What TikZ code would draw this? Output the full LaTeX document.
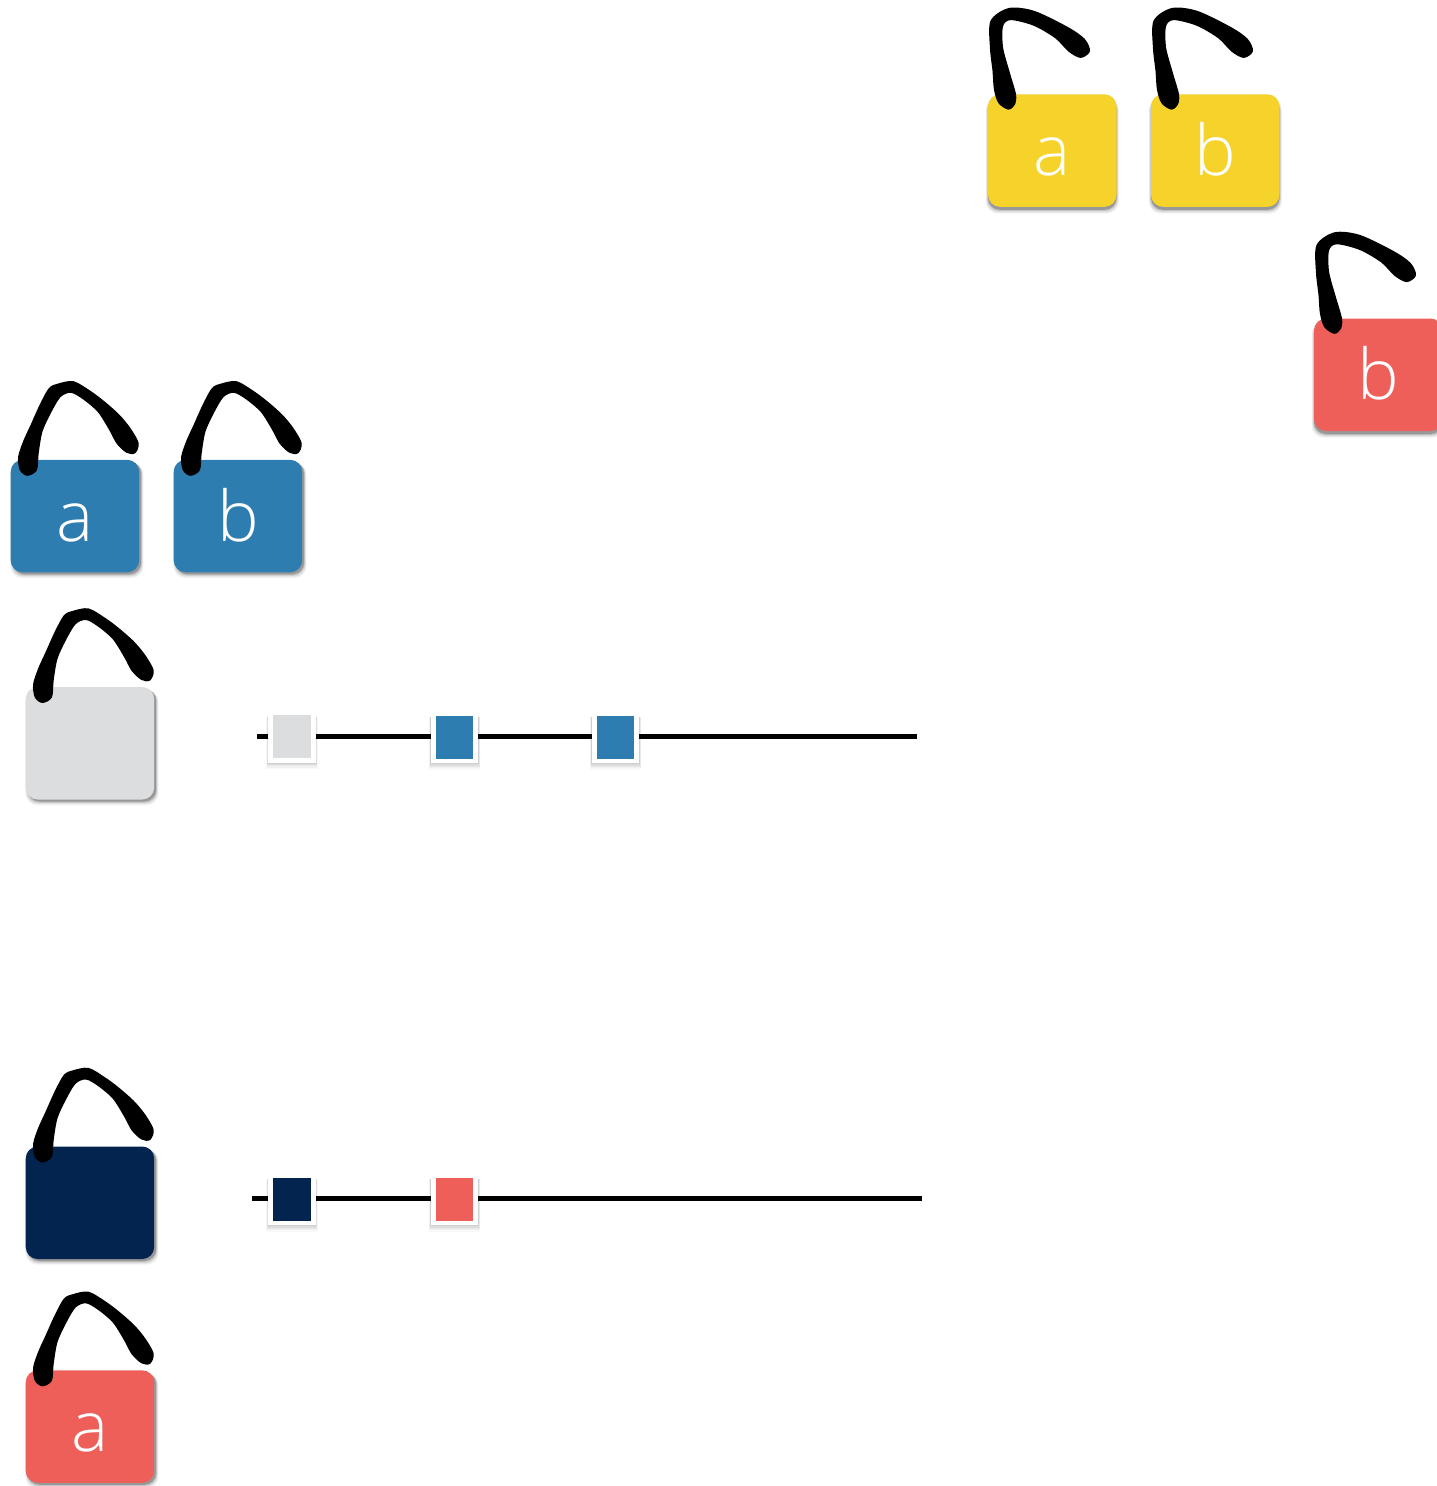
\documentclass[tikz,border=0pt]{standalone}
\usepackage{fontspec}
\setmainfont{Open Sans Light}
\definecolor{lockyellow}{HTML}{F6D32B}
\definecolor{lockred}{HTML}{EE5F5A}
\definecolor{lockblue}{HTML}{2E7DB0}
\definecolor{lockgray}{HTML}{DCDDDF}
\definecolor{locknavy}{HTML}{02244F}
\tikzset{
  lockbody/.style={rounded corners=12pt,minimum width=128.5pt,minimum height=112.5pt,inner sep=0pt,outer sep=0pt,text=white,text height=50pt,text depth=0pt,font=\fontsize{70}{70}\selectfont},
  framebox/.style={fill=white,minimum width=47.6pt,minimum height=52pt,inner sep=0pt,outer sep=0pt},
  innerbox/.style={minimum width=37.6pt,minimum height=43pt,inner sep=0pt,outer sep=0pt},
  wire/.style={line width=5pt,black},
  openshackle/.pic={\fill[black,draw=black,line width=1.6pt,line join=round] plot[smooth cycle,tension=0.5] coordinates {
    (20.3,14.5)(11,8.3)(6.7,-5)(5.3,-23.3)(2.7,-46.7)(3.3,-73.3)(21,-85.5)(46,-82.7)(79.3,-66.7)(96,-55)(101.2,-43.3)(92.7,-37.2)(81,-43.3)(67.7,-56.7)(46,-69.3)(22.7,-75)(14.3,-68.3)(14.3,-46.7)(21,-21.7)(27.2,0)(26.2,10)};},
  closedshackle/.pic={\fill[black,draw=black,line width=1.6pt,line join=round] plot[smooth cycle,tension=0.5] coordinates {
    (16.7,15.2)(9.8,10)(8.2,-2.7)(13.2,-18.3)(20.8,-35)(29.8,-55)(38.8,-71.2)(47.7,-75.5)(62.7,-77.8)(79.3,-68.3)(92.7,-58.3)(107.7,-45)(118.8,-31.7)(127.2,-16.7)(124,-7.2)(116,-7.8)(106.5,-16.7)(99.3,-30)(87.7,-48.3)(72.7,-61.2)(60.3,-67.8)(49.3,-63.3)(39.3,-46.7)(31,-28.3)(27.2,-6.7)(25.5,10)};}
}
% name, left, top, colour, text, shadow dx, shadow dy, shackle
\newcommand{\lockitem}[8]{%
  \foreach \s/\o in {5/0.03,4/0.04,3/0.05,2/0.07,1/0.09,0/0.2}{%
    \fill[black,opacity=\o,rounded corners=12pt] (#2+#6-\s*0.5,#3+#7+\s*0.2) rectangle (#2+128.5+#6+\s*0.5,#3+112.5+#7+\s*0.8);
  }%
  \node[lockbody,fill=#4,anchor=north west] (#1) at (#2,#3) {#5};
  \pic at (#1.north west) {#8};
}
\newcommand{\keybox}[4]{%
  \foreach \s/\o in {5/0.025,4/0.03,3/0.04,2/0.05,1/0.06}{%
    \fill[black,opacity=\o] (#2-23.8-\s*0.4,#3-20) rectangle (#2+23.8+\s*0.4,#3+26+\s*1.3);
  }%
  \node[framebox] (#1) at (#2,#3) {};
  \node[innerbox,fill=#4] (#1i) at (#1.center) {};
}
\begin{document}
\begin{tikzpicture}[x=1pt,y=-1pt]
\useasboundingbox (0,0) rectangle (1437,1486);
\clip (0,0) rectangle (1437,1486);
\lockitem{ya}{988}{94.3}{lockyellow}{a}{0}{3}{openshackle}
\lockitem{yb}{1151}{94.3}{lockyellow}{b}{0}{3}{openshackle}
\lockitem{rb}{1314}{318.5}{lockred}{b}{0}{3}{openshackle}
\lockitem{ba}{10.7}{459.8}{lockblue}{a}{2}{2}{closedshackle}
\lockitem{bb}{173.7}{459.8}{lockblue}{b}{2}{2}{closedshackle}
\lockitem{gr}{25.7}{687}{lockgray}{}{2}{2}{closedshackle}
\lockitem{nv}{25.7}{1146.5}{locknavy}{}{2}{2}{closedshackle}
\lockitem{ra}{25.7}{1370.3}{lockred}{a}{2}{2}{closedshackle}
\coordinate (l1s) at (257,736.5);
\coordinate (l1e) at (917,736.5);
\coordinate (l2s) at (252,1198);
\coordinate (l2e) at (922,1198);
\draw[wire] (l1s) -- (l1e);
\draw[wire] (l2s) -- (l2e);
\keybox{ka}{292}{736.5}{lockgray}
\keybox{kb}{454.5}{737}{lockblue}
\keybox{kc}{615.5}{737}{lockblue}
\keybox{kd}{292}{1199}{locknavy}
\keybox{ke}{454.5}{1199}{lockred}
\end{tikzpicture}
\end{document}
